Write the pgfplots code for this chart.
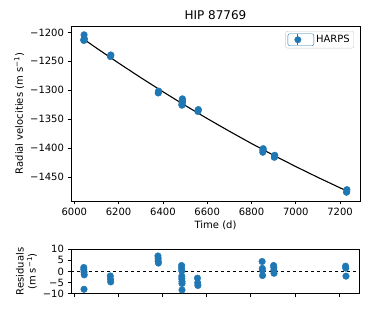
\documentclass[border=0pt]{standalone}
\usepackage{pgfplots}
\pgfplotsset{compat=1.18}
\usepackage{fontspec}
\setmainfont{DejaVu Sans}
\definecolor{C0}{HTML}{1F77B4}
\pgfplotstableread{
x y err
6043 -1214.0 1.0
6043 -1213.1 1.0
6044 -1212.0 1.0
6045 -1210.7 1.0
6044 -1204.2 1.0
6163 -1241.7 1.0
6164 -1240.2 1.0
6165 -1239.0 1.0
6379 -1304.6 1.0
6380 -1303.5 1.0
6380 -1302.3 1.0
6381 -1301.4 1.0
6486 -1325.7 1.0
6486 -1324.5 1.0
6487 -1323.3 1.0
6487 -1320.9 1.0
6487 -1319.7 1.0
6488 -1318.5 1.0
6488 -1317.6 1.0
6488 -1314.7 1.0
6558 -1336.5 1.0
6559 -1334.4 1.0
6560 -1333.2 1.0
6851 -1406.9 1.0
6852 -1403.8 1.0
6852 -1403.0 1.0
6853 -1400.6 1.0
6903 -1415.6 1.0
6904 -1414.7 2.4
6904 -1413.4 1.0
6905 -1412.1 1.0
7229 -1475.9 1.0
7230 -1475.0 1.0
7231 -1471.4 1.0
}\rvdata
\pgfplotstableread{
x r err
6043 1.8 1.0
6043 0.9 1.0
6044 -0.2 1.0
6045 -1.5 1.0
6044 -8.0 1.0
6163 -2.0 1.0
6164 -3.5 1.0
6165 -4.7 1.0
6379 7.0 1.0
6380 5.9 1.0
6380 4.7 1.0
6381 3.8 1.0
6486 2.7 1.0
6486 1.5 1.0
6487 0.3 1.0
6487 -2.1 1.0
6487 -3.3 1.0
6488 -4.5 1.0
6488 -5.4 1.0
6488 -8.3 1.0
6558 -3.0 1.0
6559 -5.1 1.0
6560 -6.3 1.0
6851 4.5 1.0
6852 1.4 1.0
6852 0.6 1.0
6853 -1.8 1.0
6903 2.7 1.0
6904 1.8 2.4
6904 0.5 1.0
6905 -0.8 1.0
7229 2.4 1.0
7230 1.5 1.0
7231 -2.1 1.0
}\resdata
\pgfplotstableread{
x y
6042 -1211.6
6100 -1227.1
6200 -1253.0
6300 -1278.1
6400 -1302.4
6500 -1326.0
6600 -1348.7
6700 -1370.6
6800 -1391.8
6900 -1412.1
7000 -1431.6
7100 -1450.3
7200 -1468.3
7232 -1473.8
}\model
\pgfplotsset{
  mystyle/.style={
    scale only axis,
    axis line style={black, line width=0.8pt},
    tick style={black, line width=0.8pt},
    tick align=outside,
    major tick length=3.5pt,
    tick pos=left,
    xmin=5985, xmax=7290,
    xtick={6000,6200,6400,6600,6800,7000,7200},
    ticklabel style={font=\fontsize{10}{12}\selectfont},
    label style={font=\fontsize{10}{12}\selectfont},
    /pgf/number format/assume math mode=true,
  }
}
\begin{document}
\begin{tikzpicture}[x=1pt,y=1pt]
\begin{axis}[mystyle,
  at={(71pt,111pt)}, anchor=south west,
  width=289pt, height=175pt,
  ymin=-1491, ymax=-1189,
  ytick={-1450,-1400,-1350,-1300,-1250,-1200},
  yticklabels={−1450,−1400,−1350,−1300,−1250,−1200},
  xticklabels={6000,6200,6400,6600,6800,7000,7200},
  xlabel={Time (d)},
  ylabel={Radial velocities (m s\textsuperscript{−1})},
  xlabel style={yshift=2pt},
  ylabel style={yshift=-1pt},
  title={HIP 87769},
  title style={font=\fontsize{12}{14}\selectfont, yshift=-3pt},
  legend style={at={(0.979,0.971)}, anchor=north east, draw=black!20,
    rounded corners=2pt, font=\fontsize{10}{12}\selectfont,
    inner xsep=2pt, inner ysep=2pt},
  legend cell align=left,
  legend image code/.code={
    \path (0pt,-6pt) rectangle (26pt,6pt);
    \draw[C0, line width=1pt] (10pt,-5.5pt) -- (10pt,5.5pt);
    \fill[C0] (10pt,0pt) circle (3.2pt);
  },
]
\addplot[black, line width=1.1pt, forget plot] table[x=x,y=y] {\model};
\addplot[only marks, mark=*, mark size=3.3pt, color=C0,
  error bars/.cd, y dir=both, y explicit, error bar style={C0, line width=1pt}, error mark=none]
  table[x=x, y=y, y error=err] {\rvdata};
\addlegendentry{HARPS}
\end{axis}
\begin{axis}[mystyle,
  at={(71pt,18.3pt)}, anchor=south west,
  width=288pt, height=44.4pt,
  ymin=-10, ymax=10,
  ytick={-10,-5,0,5,10},
  yticklabels={−10,−5,0,5,10},
  xticklabels={},
  ylabel={Residuals\\(m s\textsuperscript{−1})},
  ylabel style={align=center, yshift=-1pt},
]
\addplot[black, dashed, line width=0.8pt, forget plot] coordinates {(5985,0) (7290,0)};
\addplot[only marks, mark=*, mark size=3.3pt, color=C0,
  error bars/.cd, y dir=both, y explicit, error bar style={C0, line width=1pt}, error mark=none]
  table[x=x, y=r, y error=err] {\resdata};
\end{axis}
\pgfresetboundingbox
\path (0,0) rectangle (374,312);
\end{tikzpicture}
\end{document}
